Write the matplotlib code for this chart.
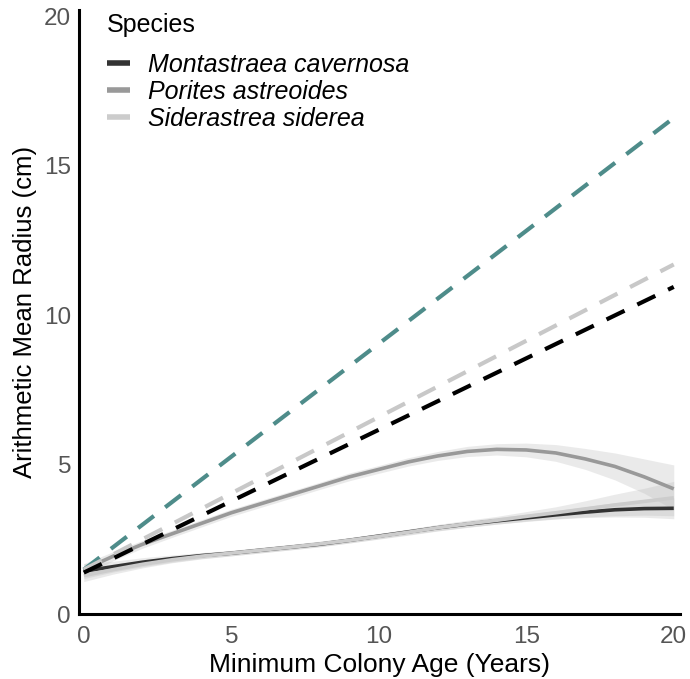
import numpy as np
import matplotlib.pyplot as plt

plt.rcParams['font.family'] = ['Liberation Sans', 'DejaVu Sans']

# smoothed fits (radius in cm) by colony age
age = list(range(0, 21))
mcav_fit = [1.45, 1.6, 1.75, 1.87, 1.97, 2.05, 2.15, 2.25, 2.35, 2.48, 2.62,
            2.76, 2.9, 3.02, 3.13, 3.23, 3.33, 3.42, 3.5, 3.54, 3.55]
mcav_lo = [1.2, 1.42, 1.6, 1.75, 1.87, 1.96, 2.06, 2.16, 2.26, 2.39, 2.53,
           2.67, 2.8, 2.92, 3.02, 3.11, 3.19, 3.24, 3.26, 3.25, 3.2]
mcav_hi = [1.7, 1.78, 1.9, 1.99, 2.07, 2.14, 2.24, 2.34, 2.44, 2.57, 2.71,
           2.85, 3.0, 3.12, 3.24, 3.35, 3.47, 3.6, 3.74, 3.83, 3.9]
past_fit = [1.5, 1.95, 2.35, 2.7, 3.05, 3.4, 3.7, 4.0, 4.3, 4.6, 4.85,
            5.1, 5.3, 5.45, 5.52, 5.5, 5.4, 5.2, 4.95, 4.6, 4.2]
past_lo = [1.3, 1.8, 2.22, 2.58, 2.93, 3.28, 3.58, 3.88, 4.18, 4.47, 4.72,
           4.96, 5.15, 5.28, 5.33, 5.27, 5.12, 4.85, 4.5, 4.05, 3.5]
past_hi = [1.7, 2.1, 2.48, 2.82, 3.17, 3.52, 3.82, 4.12, 4.42, 4.73, 4.98,
           5.24, 5.45, 5.62, 5.71, 5.73, 5.68, 5.55, 5.4, 5.2, 5.0]
ssid_fit = [1.3, 1.5, 1.68, 1.83, 1.95, 2.05, 2.15, 2.25, 2.36, 2.48, 2.61,
            2.75, 2.9, 3.03, 3.15, 3.28, 3.4, 3.53, 3.66, 3.78, 3.9]
ssid_lo = [1.1, 1.35, 1.56, 1.73, 1.86, 1.96, 2.06, 2.16, 2.27, 2.39, 2.52,
           2.65, 2.79, 2.91, 3.02, 3.12, 3.2, 3.26, 3.3, 3.32, 3.3]
ssid_hi = [1.5, 1.65, 1.8, 1.93, 2.04, 2.14, 2.24, 2.34, 2.45, 2.57, 2.7,
           2.85, 3.01, 3.15, 3.28, 3.44, 3.6, 3.8, 4.02, 4.22, 4.45]

# straight reference lines (start, end)
line_age = [0, 20]
ref_teal = [1.5, 16.6]
ref_gray = [1.5, 11.7]
ref_black = [1.4, 10.95]

species = ["Montastraea cavernosa", "Porites astreoides", "Siderastrea siderea"]
colors = ["#333333", "#999999", "#cccccc"]

fig, ax = plt.subplots(figsize=(6.9, 6.79), dpi=100)
fig.subplots_adjust(left=0.115, right=0.985, top=0.985, bottom=0.095)

fits = [(mcav_fit, mcav_lo, mcav_hi), (past_fit, past_lo, past_hi), (ssid_fit, ssid_lo, ssid_hi)]
for fit, lo, hi in fits:
    ax.fill_between(age, lo, hi, color="#bbbbbb", alpha=0.3, linewidth=0)
for (fit, lo, hi), c, name in zip(fits, colors, species):
    ax.plot(age, fit, color=c, lw=2.6, label=name, solid_capstyle="butt")

ax.plot(line_age, ref_teal, color="#4e8c8a", lw=3, dashes=(4.8, 3.4))
ax.plot(line_age, ref_gray, color="#c8c8c8", lw=3, dashes=(4.8, 3.4))
ax.plot(line_age, ref_black, color="black", lw=3, dashes=(4.8, 3.4))

ax.set_xlim(-0.15, 20.2)
ax.set_ylim(0, 20.2)
ax.set_xticks([0, 5, 10, 15, 20])
ax.set_yticks([0, 5, 10, 15, 20])
ax.tick_params(length=0, labelsize=17.5, labelcolor="#555555")
ax.tick_params(axis="x", pad=8)
ax.tick_params(axis="y", pad=6)
for s in ["top", "right"]:
    ax.spines[s].set_visible(False)
for s in ["left", "bottom"]:
    ax.spines[s].set_linewidth(2.2)
ax.set_xlabel("Minimum Colony Age (Years)", fontsize=19, labelpad=4)
ax.set_ylabel("Arithmetic Mean Radius (cm)", fontsize=18.5, labelpad=5)

leg = ax.legend(title="Species", loc="upper left", bbox_to_anchor=(0.008, 1.032),
                frameon=False, fontsize=18, title_fontsize=18,
                handlelength=0.95, handletextpad=0.72, labelspacing=0.13)
leg._legend_box.align = "left"
leg._legend_box.sep = 11
for t in leg.get_texts():
    t.set_fontstyle("italic")
for h in leg.legend_handles:
    h.set_linewidth(4)

plt.savefig("out.png", dpi=100)
